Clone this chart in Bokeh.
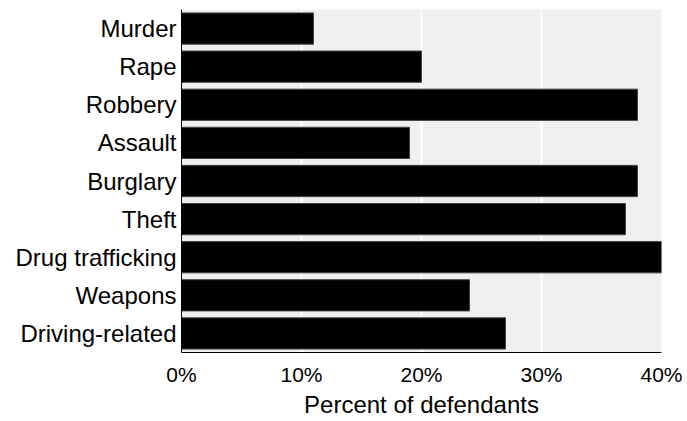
from bokeh.plotting import figure
from bokeh.models import Range1d, FactorRange, FixedTicker, ColumnDataSource
from bokeh.embed import file_html
from bokeh.resources import INLINE

categories = ["Murder", "Rape", "Robbery", "Assault", "Burglary", "Theft",
              "Drug trafficking", "Weapons", "Driving-related"]
percent = [11, 20, 38, 19, 38, 37, 40, 24, 27]
tick_values = [0, 10, 20, 30, 40]
tick_labels = ["0%", "10%", "20%", "30%", "40%"]
x_title = "Percent of defendants"

src = ColumnDataSource(dict(cat=categories, pct=percent))

p = figure(width=687, height=421, output_backend="svg", toolbar_location=None,
           y_range=FactorRange(factors=list(reversed(categories))),
           x_range=Range1d(0, 40),
           min_border_left=181, min_border_right=26, min_border_top=9, min_border_bottom=69)

p.hbar(y="cat", right="pct", left=0, height=0.82, source=src,
       fill_color="black", line_color="#444444", line_width=1)

p.background_fill_color = "#EFEFEF"
p.border_fill_color = "white"
p.outline_line_color = None

p.xgrid.ticker = FixedTicker(ticks=[10, 20, 30])
p.xgrid.grid_line_color = "white"
p.xgrid.grid_line_width = 2
p.ygrid.grid_line_color = None

p.xaxis.ticker = FixedTicker(ticks=tick_values)
p.xaxis.major_label_overrides = {v: l for v, l in zip(tick_values, tick_labels)}
p.xaxis.axis_label = x_title

for ax in (p.xaxis[0], p.yaxis[0]):
    ax.axis_line_color = "black"
    ax.axis_line_width = 1
    ax.major_tick_line_color = None
    ax.minor_tick_line_color = None
    ax.major_tick_out = 0
    ax.major_tick_in = 0
    ax.major_label_text_font = "Liberation Sans"
    ax.major_label_text_color = "black"
    ax.axis_label_text_font = "Liberation Sans"
    ax.axis_label_text_font_style = "normal"
    ax.axis_label_text_color = "black"

p.xaxis.major_label_text_font_size = "21px"
p.xaxis.major_label_standoff = 10
p.xaxis.axis_label_text_font_size = "24px"
p.xaxis.axis_label_standoff = 2
p.yaxis.major_label_text_font_size = "24px"
p.yaxis.major_label_standoff = 5

open("out.html", "w").write(file_html(p, INLINE))
